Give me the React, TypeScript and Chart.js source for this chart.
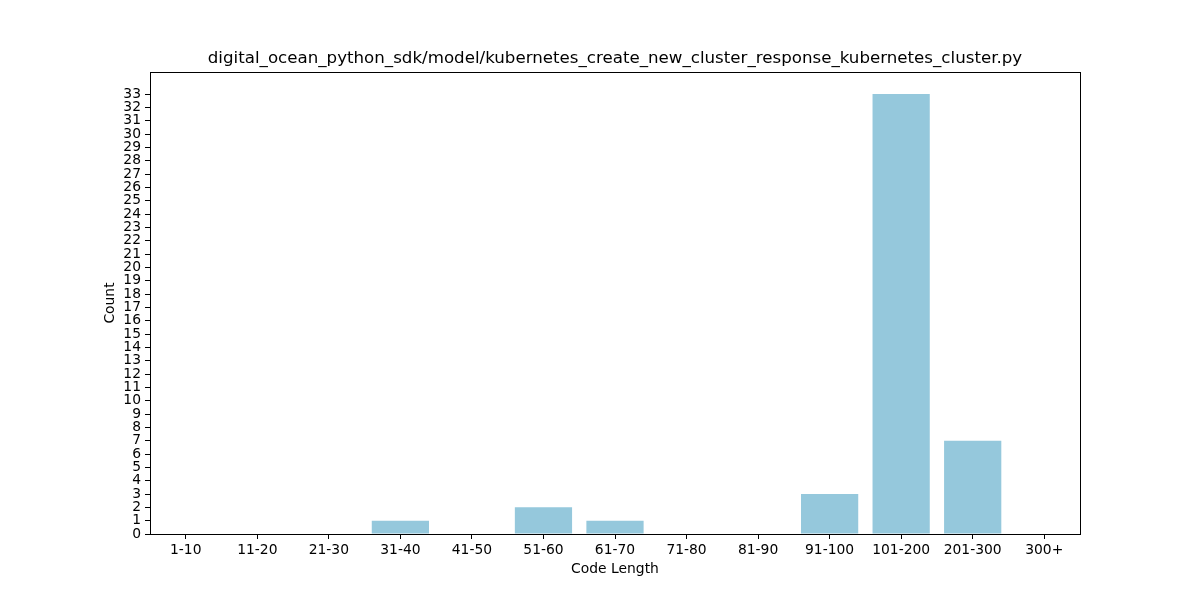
import React, { useEffect, useRef } from "react";
import { Chart, registerables } from "chart.js";

Chart.register(...registerables);

const categories = ["1-10", "11-20", "21-30", "31-40", "41-50", "51-60", "61-70", "71-80", "81-90", "91-100", "101-200", "201-300", "300+"];
const counts = [0, 0, 0, 1, 0, 2, 1, 0, 0, 3, 33, 7, 0];
const chartTitle = "digital_ocean_python_sdk/model/kubernetes_create_new_cluster_response_kubernetes_cluster.py";
const xLabel = "Code Length";
const yLabel = "Count";
const barColor = "#95c8dc";

const FONT = "'DejaVu Sans', sans-serif";

const framePlugin = {
  id: "frame",
  afterDraw(chart: any) {
    const { ctx, chartArea } = chart;
    ctx.save();
    ctx.strokeStyle = "#000";
    ctx.lineWidth = 1;
    ctx.strokeRect(Math.round(chartArea.left) + 0.5, Math.round(chartArea.top) + 0.5, Math.round(chartArea.right - chartArea.left), Math.round(chartArea.bottom - chartArea.top));
    ctx.restore();
  },
};

export default function App() {
  const ref = useRef<HTMLCanvasElement>(null);
  useEffect(() => {
    const maxCount = Math.max(...counts);
    const chart = new Chart(ref.current!, {
      type: "bar",
      data: {
        labels: categories,
        datasets: [
          {
            data: counts,
            backgroundColor: barColor,
            borderWidth: 0,
            barPercentage: 0.8,
            categoryPercentage: 1,
          },
        ],
      },
      options: {
        animation: false,
        responsive: false,
        maintainAspectRatio: false,
        layout: { padding: { left: 0, right: 120, top: 0, bottom: 0 } },
        plugins: {
          legend: { display: false },
          tooltip: { enabled: false },
          title: {
            display: true,
            text: chartTitle,
            fullSize: false,
            color: "#000",
            font: { family: FONT, size: 16.67, weight: "normal", lineHeight: 1.2 },
            padding: { top: 49, bottom: 3 },
          },
        },
        scales: {
          x: {
            type: "category",
            offset: true,
            grid: { display: true, drawOnChartArea: false, tickLength: 5, color: "#000", offset: false },
            border: { display: true, color: "#000" },
            ticks: { color: "#000", font: { family: FONT, size: 13.89 }, padding: 3, maxRotation: 0, autoSkip: false },
            title: {
              display: true,
              text: xLabel,
              color: "#000",
              font: { family: FONT, size: 13.89, lineHeight: 1.2 },
              padding: { top: 0, bottom: 22.5 },
            },
            afterFit: (scale: any) => {
              scale.height = 66;
            },
          },
          y: {
            min: 0,
            max: maxCount * 1.05,
            grid: { display: true, drawOnChartArea: false, tickLength: 5, color: "#000" },
            border: { display: true, color: "#000" },
            ticks: {
              stepSize: 1,
              includeBounds: false,
              autoSkip: false,
              color: "#000",
              font: { family: FONT, size: 13.89 },
              padding: 4,
            },
            afterBuildTicks: (scale: any) => {
              scale.ticks = scale.ticks.filter((t: any) => t.value <= maxCount && Number.isInteger(t.value));
            },
            title: {
              display: true,
              text: yLabel,
              color: "#000",
              font: { family: FONT, size: 13.89, lineHeight: 1.2 },
              padding: { top: 102, bottom: 0 },
            },
            afterFit: (scale: any) => {
              scale.width = 150;
            },
          },
        },
      },
      plugins: [framePlugin],
    });
    return () => chart.destroy();
  }, []);
  return (
    <div style={{ position: "fixed", left: 0, top: 0, width: 1200, height: 600, background: "#fff" }}>
      <canvas ref={ref} width={1200} height={600} style={{ width: 1200, height: 600 }} />
    </div>
  );
}
